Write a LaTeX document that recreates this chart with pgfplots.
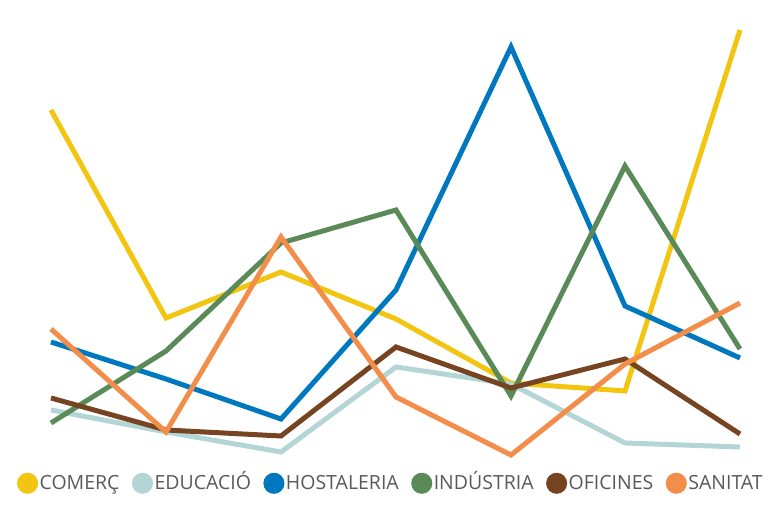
\documentclass[border=0pt]{standalone}
\usepackage{pgfplots}
\pgfplotsset{compat=1.18}
\usepackage{fontspec}
\setmainfont{Open Sans}
\definecolor{cCom}{RGB}{242,197,17}
\definecolor{cEdu}{RGB}{180,213,214}
\definecolor{cHos}{RGB}{0,120,191}
\definecolor{cInd}{RGB}{90,138,88}
\definecolor{cOfi}{RGB}{119,68,34}
\definecolor{cSan}{RGB}{242,142,73}
\definecolor{txt}{RGB}{89,89,89}
\begin{document}
\begin{tikzpicture}
\begin{axis}[
  scale only axis, width=769pt, height=505pt,
  xmin=0, xmax=769, ymin=0, ymax=505,
  hide axis, clip=false,
  every axis plot/.append style={line width=5pt, line join=miter, mark=none},
  legend columns=6,
  legend style={draw=none, fill=none, at={(0.508,0.043)}, anchor=center,
    font=\fontsize{19.5}{24}\selectfont\color{txt}, nodes={inner sep=1.5pt, text height=14pt, text depth=1pt},
    /tikz/every even column/.append style={column sep=11pt}},
  legend image code/.code={\fill[#1] (0pt,0pt) circle (8pt);},
]
\path (rel axis cs:0,0) (rel axis cs:1,1);
% values are 505 - pixel y
\addplot[cCom] coordinates {(51,395) (166,187) (281,233) (396,186) (511,122) (625,114) (740,475)};
\addlegendentry{COMERÇ}
\addplot[cEdu] coordinates {(51,95) (166,73) (281,53) (396,138) (511,121) (625,62) (740,58)};
\addlegendentry{EDUCACIÓ}
\addplot[cHos] coordinates {(51,163) (166,126) (281,86) (396,215) (511,458) (625,199) (740,147)};
\addlegendentry{HOSTALERIA}
\addplot[cInd] coordinates {(51,82) (166,154) (281,262) (396,295) (511,109) (625,339) (740,156)};
\addlegendentry{INDÚSTRIA}
\addplot[cOfi] coordinates {(51,107) (166,75) (281,69) (396,158) (511,117) (625,146) (740,71)};
\addlegendentry{OFICINES}
\addplot[cSan] coordinates {(51,176) (166,73) (281,268) (396,108) (511,50) (625,141) (740,202)};
\addlegendentry{SANITAT}
\end{axis}
\end{tikzpicture}
\end{document}
